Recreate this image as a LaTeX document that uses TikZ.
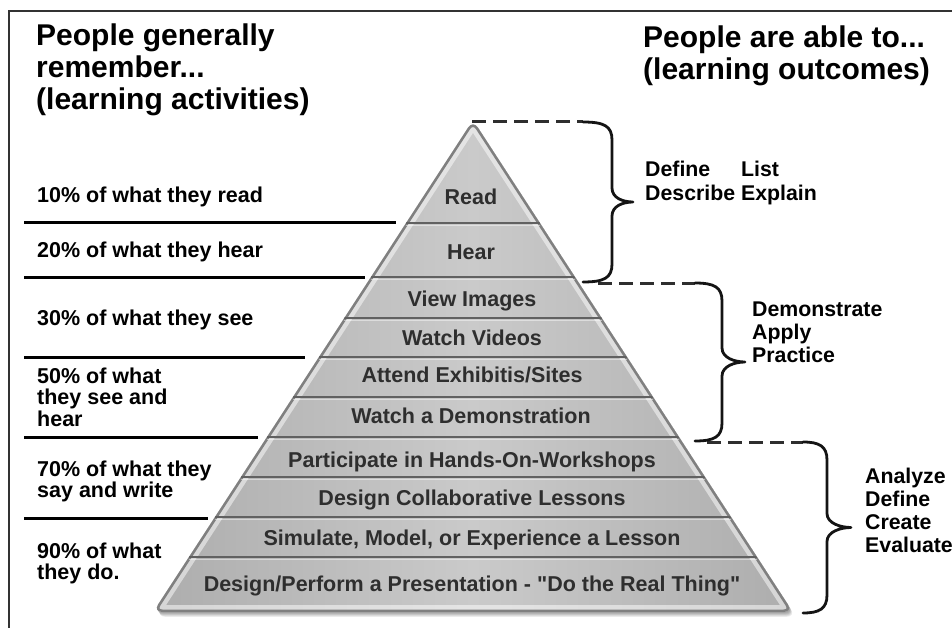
\documentclass[tikz,border=0pt]{standalone}
\usepackage{fontspec}
\setmainfont{Liberation Sans}
\newfontfamily\lblfont{Liberation Sans}
\newfontfamily\ttlfont{Liberation Sans}
\newfontfamily\pyrfont{Liberation Sans}
\usetikzlibrary{calc}
\newcommand\mlines[1]{\vtop{\lineskiplimit=-30pt\halign{##\hfil\cr#1\crcr}}}
\newcommand\twocol[4]{\vtop{\lineskiplimit=-30pt\halign{##\hfil\hskip 6pt&##\hfil\cr #1&#2\cr #3&#4\crcr}}}
\newcommand\drawcurly[5]{% #1 end x, #2 top y, #3 bottom y, #4 stem x, #5 tip x
  \draw[curly] (#1,#2) .. controls ({#4-8},#2) and (#4,{#2+4}) .. (#4,{#2+18})
    -- (#4,{(#2+#3)/2-14}) .. controls (#4,{(#2+#3)/2-4}) and ({#5-10},{(#2+#3)/2}) .. (#5,{(#2+#3)/2})
    .. controls ({#5-10},{(#2+#3)/2}) and (#4,{(#2+#3)/2+4}) .. (#4,{(#2+#3)/2+14})
    -- (#4,{#3-18}) .. controls (#4,{#3-4}) and ({#4-8},#3) .. (#1,#3);}
\definecolor{pyrside}{HTML}{ADADAD}
\definecolor{pyrmid}{HTML}{CACACA}
\begin{document}
\begin{tikzpicture}[x=1pt,y=-1pt,
  ttl/.style={anchor=base west, inner sep=0, font=\ttlfont\bfseries\fontsize{30}{32}\selectfont},
  lbl/.style={anchor=base west, inner sep=0, font=\lblfont\bfseries\fontsize{21.5}{21.8}\selectfont},
  outc/.style={anchor=base west, inner sep=0, font=\lblfont\bfseries\fontsize{21.3}{23.2}\selectfont},
  tier/.style={anchor=base, inner sep=0, text=black!82, font=\pyrfont\bfseries\fontsize{21.5}{24}\selectfont},
  rule/.style={line width=3pt, black},
  divider/.style={line width=2.4pt, black!62},
  lead/.style={dash pattern=on 14pt off 7pt, line width=3pt, black!82},
  curly/.style={line width=2.8pt, black!92, line cap=round, line join=round},
  frame/.style={line width=1.5pt, black!80},
  pyrpath/.style={rounded corners=9pt, insert path={(473,120) -- (792.8,612) -- (153.2,612) -- cycle}}
]
\useasboundingbox (0,0) rectangle (952,628);
\fill[white] (0,0) rectangle (952,628);
\draw[frame] (9,630) -- (9,11) -- (954,11);

% titles
\node[ttl] (hL) at (36,46) {\mlines{People generally\cr remember...\cr (learning activities)}};
\node[ttl] (hR) at (643,48) {\mlines{People are able to...\cr (learning outcomes)}};

% pyramid
\coordinate (apex) at (472,122);
\foreach \i in {1,...,6} {\fill[black, opacity=0.07, shift={(0.5*\i,0.8*\i)}, pyrpath];}
\shade[pyrpath, left color=pyrside, right color=pyrside, middle color=pyrmid];
\begin{scope}
  \clip[pyrpath];
  \draw[white, opacity=0.5, line width=14pt, pyrpath];
  \draw[black!50, line width=5pt, pyrpath];
  \foreach \yy in {223,277,318,357,397,437,477,517,557} {
    \draw[divider] ({473-0.65*(\yy-120)},\yy) -- ({473+0.65*(\yy-120)},\yy);
    \draw[white, opacity=0.45, line width=1pt] ({473-0.65*(\yy-120)},\yy+2.2) -- ({473+0.65*(\yy-120)},\yy+2.2);
  }
\end{scope}

% tier texts
\node[tier] (t1) at (471,205) {Read};
\node[tier] (t2) at (471,259) {Hear};
\node[tier] (t3) at (472,306) {View Images};
\node[tier] (t4) at (472,345) {Watch Videos};
\node[tier] (t5) at (472,382) {Attend Exhibitis/Sites};
\node[tier] (t6) at (471,423) {Watch a Demonstration};
\node[tier] (t7) at (472,467) {Participate in Hands-On-Workshops};
\node[tier] (t8) at (472,505) {Design Collaborative Lessons};
\node[tier] (t9) at (472,545) {Simulate, Model, or Experience a Lesson};
\node[tier] (t10) at (472,591) {Design/Perform a Presentation - "Do the Real Thing"};

% left rules
\draw[rule] (24,223) -- (396,223);
\draw[rule] (24,277) -- (365,277);
\draw[rule] (24,357) -- (305,357);
\draw[rule] (24,437) -- (258,437);
\draw[rule] (24,518) -- (208,518);

% left labels
\node[lbl] (l1) at (37,203) {10\% of what they read};
\node[lbl] (l2) at (37,257) {20\% of what they hear};
\node[lbl] (l3) at (37,325) {30\% of what they see};
\node[lbl] (l4) at (37,383) {\mlines{50\% of what\cr they see and\cr hear}};
\node[lbl] (l5) at (37,476) {\mlines{70\% of what they\cr say and write}};
\node[lbl] (l6) at (37,558) {\mlines{90\% of what\cr they do.}};

% braces and leaders
\coordinate (b1a) at (583,122);
\coordinate (b2s) at (598,283);
\coordinate (b2a) at (695,283);
\coordinate (b3s) at (707,442);
\coordinate (b3a) at (803,442);
\draw[lead] (apex) -- (b1a);
\draw[lead] (b2s) -- (b2a);
\draw[lead] (b3s) -- (b3a);
\drawcurly{583}{122}{282}{612}{633}
\drawcurly{695}{283}{441}{722}{745}
\drawcurly{803}{442}{613}{827}{851}

% outcomes
\node[outc] (o1) at (645,177) {\twocol{Define}{List}{Describe}{Explain}};
\node[outc] (o2) at (752,316) {\mlines{Demonstrate\cr Apply\cr Practice}};
\node[outc] (o3) at (865,483) {\mlines{Analyze\cr Define\cr Create\cr Evaluate}};
\end{tikzpicture}
\end{document}
